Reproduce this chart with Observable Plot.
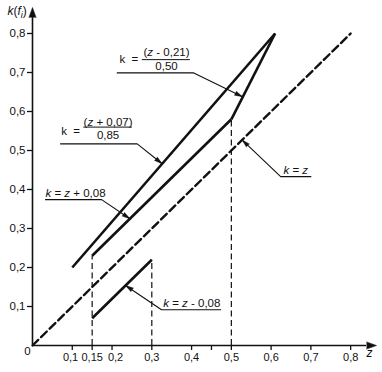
<!DOCTYPE html>
<html>
<head>
<meta charset="utf-8">
<script src="https://cdn.jsdelivr.net/npm/d3@7"></script>
<script src="https://cdn.jsdelivr.net/npm/@observablehq/plot@0.6"></script>
<style>
  html, body { margin: 0; padding: 0; background: #fff; }
  svg text { white-space: pre; }
</style>
</head>
<body>
<div id="chart"></div>
<script>
// ---- Data ----
// k = (z + 0,07) / 0,85
const upperZ = [0.10, 0.61];
const upperK = [0.20, 0.80];
// k = (z - 0,21) / 0,50
const steepZ = [0.50, 0.61];
const steepK = [0.58, 0.80];
// k = z + 0,08
const midZ = [0.15, 0.50];
const midK = [0.23, 0.58];
// k = z - 0,08
const lowZ = [0.15, 0.30];
const lowK = [0.07, 0.22];
// k = z (dashed)
const diagZ = [0, 0.80];
const diagK = [0, 0.80];
// dashed drop lines
const dropZ = [0.15, 0.30, 0.50];
const dropK = [0.23, 0.22, 0.58];

// ticks
const xTicks = [0.1, 0.15, 0.2, 0.3, 0.4, 0.45, 0.5, 0.6, 0.7, 0.8];
const xTickLabels = ["0,1", "0,15", "0,2", "0,3", "0,4", "", "0,5", "0,6", "0,7", "0,8"];
const yTicks = [0.1, 0.2, 0.3, 0.4, 0.5, 0.6, 0.7, 0.8];
const yTickLabels = ["0,1", "0,2", "0,3", "0,4", "0,5", "0,6", "0,7", "0,8"];

// annotations
const eqLabels = ["*k* = *z* + 0,08", "*k* = *z* - 0,08", "*k* = *z*"];
const eqLabelZ = [0.0327, 0.3286, 0.631];
const eqLabelK = [0.389, 0.1077, 0.449];

const fracLead = ["k  =", "k  ="];
const fracLeadZ = [0.2187, 0.072];
const fracLeadK = [0.733, 0.5495];
const fracNum = ["(*z* - 0,21)", "(*z* + 0,07)"];
const fracNumZ = [0.337, 0.19];
const fracNumK = [0.752, 0.5726];
const fracDen = ["0,50", "0,85"];
const fracDenK = [0.715, 0.5385];
const fracBarZ1 = [0.276, 0.129];
const fracBarZ2 = [0.397, 0.251];
const fracBarK = [0.733, 0.56];

// leader lines: underline from..to at height, then to tip on the curve
const leaderK = [0.699, 0.517, 0.374, 0.0915, 0.433];
const leaderFrom = [0.213, 0.0704, 0.0327, 0.4732, 0.700];
const leaderTo = [0.4056, 0.2633, 0.1737, 0.3244, 0.624];
const leaderTipZ = [0.528, 0.326, 0.245, 0.234, 0.527];
const leaderTipK = [0.638, 0.466, 0.325, 0.154, 0.527];

const axisEndZ = 0.84;
const axisEndK = 0.841;

// ---- layout ----
const W = 382, H = 372, mL = 32, mR = 4, mT = 1.8, mB = 27;
const xDom = [0, 0.87], yDom = [0, 0.88];
const sx = (W - mL - mR) / (xDom[1] - xDom[0]);
const sy = (H - mT - mB) / (yDom[1] - yDom[0]);

// ---- helpers ----
const seg = (zs, ks) => zs.map((z, i) => ({z, k: ks[i]}));
const leaders = leaderK.flatMap((k, i) => [
  {id: i, z: leaderFrom[i], k},
  {id: i, z: leaderTo[i], k},
  {id: i, z: leaderTipZ[i], k: leaderTipK[i]}
]);
const heads = leaderK.map((k, i) => {
  const dx = (leaderTipZ[i] - leaderTo[i]) * sx;
  const dy = -(leaderTipK[i] - k) * sy;
  return {z: leaderTipZ[i], k: leaderTipK[i], a: Math.atan2(dx, -dy) * 180 / Math.PI};
});
const drops = dropZ.map((z, i) => ({z, k: dropK[i]}));
const eqs = eqLabels.map((t, i) => ({t, z: eqLabelZ[i], k: eqLabelK[i]}));
const leads = fracLead.map((t, i) => ({t, z: fracLeadZ[i], k: fracLeadK[i]}));
const nums = fracNum.map((t, i) => ({t, z: fracNumZ[i], k: fracNumK[i]}));
const dens = fracDen.map((t, i) => ({t, z: fracNumZ[i], k: fracDenK[i]}));
const bars = fracBarK.map((k, i) => ({k, z1: fracBarZ1[i], z2: fracBarZ2[i]}));

const fmtX = d => xTickLabels[xTicks.indexOf(d)];
const fmtY = d => yTickLabels[yTicks.indexOf(d)];
const xRest = xTicks.filter(d => d !== 0.1 && d !== 0.2);

const font = "'Liberation Sans', Arial, Helvetica, sans-serif";
const solid = {x: "z", y: "k", stroke: "#111", strokeWidth: 2.6, strokeLinecap: "butt"};
const AF = 11;

const chart = Plot.plot({
  width: W,
  height: H,
  marginLeft: mL,
  marginRight: mR,
  marginTop: mT,
  marginBottom: mB,
  x: {domain: xDom},
  y: {domain: yDom},
  style: {fontFamily: font, fontSize: "12px", color: "#111", background: "#fff"},
  marks: [
    // axes lines
    Plot.ruleY([0], {x1: 0, x2: axisEndZ, stroke: "#111", strokeWidth: 1.6}),
    Plot.ruleX([0], {y1: 0, y2: axisEndK, stroke: "#111", strokeWidth: 1.6}),
    Plot.vector([{z: axisEndZ, k: 0}], {x: "z", y: "k", shape: "spike", anchor: "start", length: 10, r: 3.6, rotate: 90, fill: "#111", stroke: "#111", strokeWidth: 0.5}),
    Plot.vector([{z: 0, k: axisEndK}], {x: "z", y: "k", shape: "spike", anchor: "start", length: 10, r: 3.6, rotate: 0, fill: "#111", stroke: "#111", strokeWidth: 0.5}),
    Plot.axisX({ticks: xTicks, tickFormat: () => "", tickSize: 5, label: null, strokeWidth: 1.3}),
    Plot.axisX({ticks: [0.1], tickFormat: fmtX, tickSize: 0, tickPadding: 8, dx: -1.7, label: null, fontSize: AF}),
    Plot.axisX({ticks: [0.2], tickFormat: fmtX, tickSize: 0, tickPadding: 8, dx: 3.5, label: null, fontSize: AF}),
    Plot.axisX({ticks: xRest, tickFormat: fmtX, tickSize: 0, tickPadding: 8, label: null, fontSize: AF}),
    Plot.axisY({ticks: yTicks, tickFormat: fmtY, tickSize: 5, tickPadding: 2, label: null, strokeWidth: 1.3, fontSize: 11.5}),
    Plot.text(["0"], {x: () => 0, y: () => 0, dx: -5, dy: 6, textAnchor: "middle", lineAnchor: "middle", fontSize: 11.5}),
    Plot.text(["k(f_i)"], {frameAnchor: "top-left", dx: -25, dy: 13, textAnchor: "start", lineAnchor: "bottom"}),
    Plot.text(["z"], {frameAnchor: "bottom-right", dx: -9, dy: 3, textAnchor: "middle", lineAnchor: "top", fontStyle: "italic"}),

    // dashed drop lines
    Plot.ruleX(drops, {x: "z", y1: 0, y2: "k", stroke: "#111", strokeWidth: 1.2, strokeDasharray: "6,3.5"}),
    // k = z dashed
    Plot.line(seg(diagZ, diagK), {x: "z", y: "k", stroke: "#111", strokeWidth: 2.4, strokeDasharray: "8,4"}),
    // solid curves
    Plot.line(seg(upperZ, upperK), solid),
    Plot.line(seg(steepZ, steepK), solid),
    Plot.line(seg(midZ, midK), solid),
    Plot.line(seg(lowZ, lowK), solid),

    // leader lines with filled arrowheads
    Plot.line(leaders, {x: "z", y: "k", z: "id", stroke: "#111", strokeWidth: 1.1}),
    Plot.vector(heads, {x: "z", y: "k", rotate: "a", shape: "spike", anchor: "end", length: 8, r: 2.2, fill: "#111", stroke: "#111", strokeWidth: 0.4}),

    // labels
    Plot.text(eqs, {x: "z", y: "k", text: "t", textAnchor: "start", lineAnchor: "middle", fontSize: AF + 0.5}),
    Plot.text(leads, {x: "z", y: "k", text: "t", textAnchor: "start", lineAnchor: "middle", fontSize: AF + 0.5}),
    Plot.text(nums, {x: "z", y: "k", text: "t", textAnchor: "middle", lineAnchor: "middle", fontSize: AF + 0.5}),
    Plot.text(dens, {x: "z", y: "k", text: "t", textAnchor: "middle", lineAnchor: "middle", fontSize: AF + 0.5}),
    Plot.ruleY(bars, {y: "k", x1: "z1", x2: "z2", stroke: "#111", strokeWidth: 1})
  ]
});

// rich text: italics marked with *...*, subscript in the y label
const ns = "http://www.w3.org/2000/svg";
chart.querySelectorAll("text").forEach(t => {
  const s = t.textContent;
  if (s === "k(f_i)") {
    t.textContent = "";
    const parts = [["k", "italic"], ["(", null], ["f", "italic"], ["i", "italic", true], [")", null]];
    parts.forEach(([p, st, sub]) => {
      const ts = document.createElementNS(ns, "tspan");
      ts.textContent = p;
      if (st) ts.setAttribute("font-style", st);
      if (sub) { ts.setAttribute("font-size", "9"); ts.setAttribute("dy", "3"); }
      else if (p === ")") ts.setAttribute("dy", "-3");
      t.appendChild(ts);
    });
  } else if (s.includes("*")) {
    t.textContent = "";
    s.split("*").forEach((p, i) => {
      if (!p) return;
      const ts = document.createElementNS(ns, "tspan");
      ts.textContent = p;
      if (i % 2) ts.setAttribute("font-style", "italic");
      t.appendChild(ts);
    });
  }
});

document.getElementById("chart").appendChild(chart);
</script>
</body>
</html>
